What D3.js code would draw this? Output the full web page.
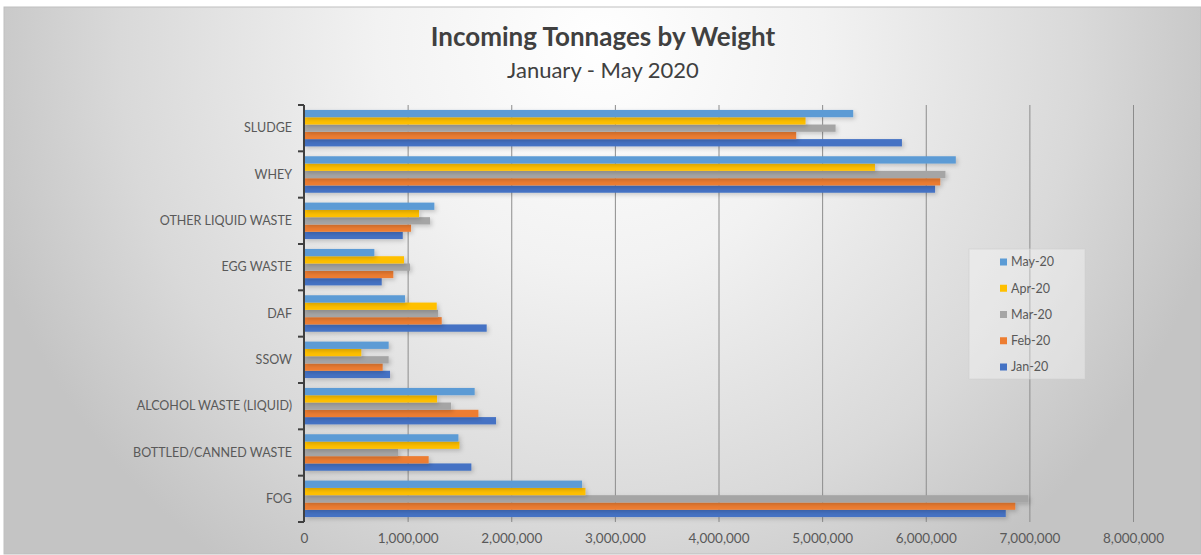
<!DOCTYPE html>
<html><head><meta charset="utf-8">
<script src="https://cdn.jsdelivr.net/npm/d3@7"></script>
<style>
html,body{margin:0;padding:0;background:#fff;}
svg{display:block;}
text{font-family:Lato,"Open Sans",sans-serif;}
</style></head>
<body>
<svg id="chart" width="1201" height="555"></svg>
<script>
// ---- data ----
const categories = ["FOG","BOTTLED/CANNED WASTE","ALCOHOL WASTE (LIQUID)","SSOW","DAF","EGG WASTE","OTHER LIQUID WASTE","WHEY","SLUDGE"];
const seriesNames = ["Jan-20","Feb-20","Mar-20","Apr-20","May-20"];
const jan20 = [6772000,1615000,1853000,830000,1763000,750000,953000,6090000,5770000];
const feb20 = [6864000,1203000,1683000,759000,1329000,862000,1033000,6140000,4750000];
const mar20 = [6990000,907000,1419000,817000,1293000,1023000,1216000,6190000,5130000];
const apr20 = [2716000,1500000,1284000,553000,1281000,965000,1110000,5510000,4840000];
const may20 = [2683000,1490000,1647000,817000,975000,679000,1258000,6290000,5300000];
const xTicks = [0,1000000,2000000,3000000,4000000,5000000,6000000,7000000,8000000];
const colors = ["#4472C4","#ED7D31","#A5A5A5","#FFC000","#5B9BD5"];
const titleText = "Incoming Tonnages by Weight";
const subtitleText = "January - May 2020";

const seriesValues = [jan20,feb20,mar20,apr20,may20];
const series = seriesNames.map((n,i)=>({name:n,values:seriesValues[i],color:colors[i]}));

const svg = d3.select("#chart");
const defs = svg.append("defs");
const rg = defs.append("radialGradient").attr("id","bg").attr("gradientUnits","userSpaceOnUse")
  .attr("cx",600).attr("cy",45).attr("r",640);
rg.append("stop").attr("offset","0").attr("stop-color","#ffffff");
rg.append("stop").attr("offset","0.35").attr("stop-color","#f2f2f2");
rg.append("stop").attr("offset","0.75").attr("stop-color","#d9d9d9");
rg.append("stop").attr("offset","1").attr("stop-color","#c4c4c4");
const sh = defs.append("filter").attr("id","shadow").attr("x","-5%").attr("y","-50%").attr("width","115%").attr("height","250%");
sh.append("feDropShadow").attr("dx",2).attr("dy",2).attr("stdDeviation",2).attr("flood-color","#000").attr("flood-opacity",0.18);

// chart area background
svg.append("rect").attr("x",4).attr("y",7).attr("width",1197).attr("height",547)
  .attr("fill","url(#bg)").attr("stroke","#bfbfbf").attr("stroke-width",1);

const plot = {left:304, right:1133, top:105, bottom:522};
const x = d3.scaleLinear().domain([0,8000000]).range([plot.left,plot.right]);
const y = d3.scaleBand().domain(categories.slice().reverse()).range([plot.top,plot.bottom])
  .paddingInner(0.213).paddingOuter(0.1065);
const yInner = d3.scaleBand().domain(seriesNames.slice().reverse()).range([0,y.bandwidth()]).padding(0);

// gridlines
svg.append("g").attr("transform",`translate(0,${plot.bottom})`)
  .call(d3.axisBottom(x).tickValues(xTicks.slice(1)).tickSize(-(plot.bottom-plot.top)).tickFormat(""))
  .call(g=>g.select(".domain").remove())
  .call(g=>g.selectAll("line").attr("stroke","#8c8c8c").attr("stroke-width",1));

// x tick labels
svg.append("g").attr("transform",`translate(0,${plot.bottom})`)
  .call(d3.axisBottom(x).tickValues(xTicks).tickSize(0).tickPadding(11).tickFormat(d3.format(",")))
  .call(g=>g.select(".domain").remove())
  .call(g=>g.selectAll("text").attr("fill","#595959").attr("font-size","13.5px").style("font-family","Lato"));

// bars
const groups = svg.append("g").selectAll("g").data(series).join("g").attr("fill",d=>d.color)
  .attr("filter","url(#shadow)");
groups.selectAll("rect").data(s=>s.values.map((v,i)=>({v,cat:categories[i],name:s.name})))
  .join("rect")
  .attr("x",x(0))
  .attr("y",d=>y(d.cat)+yInner(d.name))
  .attr("width",d=>x(d.v)-x(0))
  .attr("height",yInner.bandwidth());

// y axis line + boundary ticks
const step = y.step();
const bounds = categories.slice().reverse().map(c=>y(c)-y.paddingOuter()*step).concat([plot.bottom]);
const yAxisG = svg.append("g");
yAxisG.append("line").attr("x1",plot.left).attr("x2",plot.left).attr("y1",plot.top).attr("y2",plot.bottom)
  .attr("stroke","#404040").attr("stroke-width",2);
yAxisG.selectAll("line.tk").data(bounds).join("line").attr("class","tk")
  .attr("x1",plot.left-6).attr("x2",plot.left).attr("y1",d=>d).attr("y2",d=>d)
  .attr("stroke","#404040").attr("stroke-width",2);

// category labels
svg.append("g").attr("transform",`translate(${plot.left},0)`)
  .call(d3.axisLeft(y).tickSize(0).tickPadding(12))
  .call(g=>g.select(".domain").remove())
  .call(g=>g.selectAll("text").attr("fill","#595959").attr("font-size","12.5px").style("font-family","Lato"));

// title
svg.append("text").attr("x",603).attr("y",46).attr("text-anchor","middle")
  .attr("font-size","26px").attr("font-weight","bold").attr("fill","#404040").text(titleText);
svg.append("text").attr("x",603).attr("y",78).attr("text-anchor","middle")
  .attr("font-size","22px").attr("fill","#404040").text(subtitleText);

// legend
const lg = svg.append("g");
lg.append("rect").attr("x",969).attr("y",249).attr("width",116).attr("height",130)
  .attr("fill","#ffffff").attr("fill-opacity",0.35).attr("stroke","#d0d0d0").attr("stroke-opacity",0.6);
const legendItems = series.slice().reverse();
const ly = d3.scalePoint().domain(legendItems.map(d=>d.name)).range([262,367]);
const li = lg.selectAll("g").data(legendItems).join("g").attr("transform",d=>`translate(1000,${ly(d.name)})`);
li.append("rect").attr("x",0).attr("y",-3.5).attr("width",7).attr("height",7).attr("fill",d=>d.color);
li.append("text").attr("x",11).attr("y",0).attr("dy","0.35em").attr("font-size","12.5px").attr("fill","#595959").text(d=>d.name);
</script>
</body></html>
